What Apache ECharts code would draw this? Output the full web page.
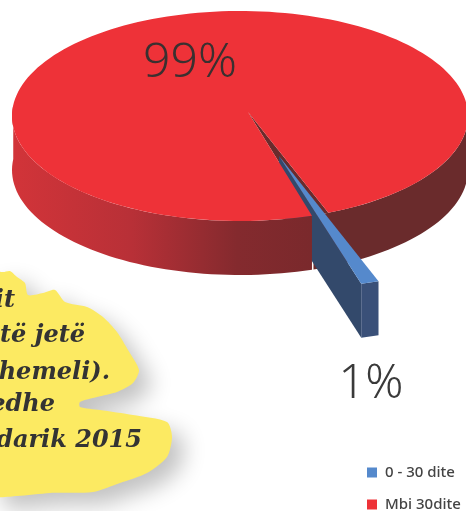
<!DOCTYPE html>
<html><head><meta charset="utf-8">
<style>html,body{margin:0;padding:0;background:#fff}#c{width:466px;height:511px}</style>
<script src="https://cdn.jsdelivr.net/npm/echarts@6/dist/echarts.min.js"></script>
</head><body><div id="c"></div>
<script>
const categories = ['0 - 30 dite', 'Mbi 30dite'];
const values = [1, 99];
const percentLabels = ['1%', '99%'];
const noteLines = ['it', 'të jetë', 'hemeli).', 'edhe', 'darik 2015'];

const chart = echarts.init(document.getElementById('c'), null, {renderer: 'canvas'});
const G = {cx: 240, cy: 116, rx: 228, ry: 105, depth: 54, apexX: 248, apexY: 112,
           midAngle: 69.5, sliceMid: 71.7, tipX: 279, tipY: 156, sliceR: 1.27};
const total = values[0] + values[1];
const halfGap = values[0] / total * 360 / 2;
const rad = d => d * Math.PI / 180;
const pt = (a, r = 1) => [G.cx + G.rx * r * Math.cos(rad(a)), G.cy + G.ry * r * Math.sin(rad(a))];
function arc(a0, a1, dy = 0) {
  const out = [], n = Math.max(2, Math.ceil(Math.abs(a1 - a0) / 2));
  for (let i = 0; i <= n; i++) {
    const p = pt(a0 + (a1 - a0) * i / n);
    out.push([p[0], p[1] + dy]);
  }
  return out;
}
const poly = (points, fill, z2) => ({type: 'polygon', z2, shape: {points}, style: {fill}});

function renderRed() {
  const a0 = G.midAngle + halfGap + 0.3, aR = G.midAngle - halfGap - 0.5, a1 = aR + 360;
  const children = [];
  const right = arc(-6, aR + 4);
  children.push(poly(right.concat(arc(aR + 4, -6, G.depth)), '#6a2b2c', 1));
  children.push(poly([[G.apexX, G.apexY], pt(aR), pt(a0)], '#6a2b2c', 2));
  const left = arc(a0, 186);
  children.push(poly(left.concat(arc(186, a0, G.depth)), {
    type: 'linear', x: 1, y: 0, x2: 0, y2: 0,
    colorStops: [{offset: 0, color: '#7a292c'}, {offset: .25, color: '#842a2e'},
                 {offset: .6, color: '#b83037'}, {offset: 1, color: '#d23439'}]
  }, 5));
  children.push(poly([[G.apexX, G.apexY]].concat(arc(a0, a1)), '#ee3238', 6));
  children.push({type: 'text', z2: 9, style: {text: percentLabels[1], x: 190, y: 63, align: 'center',
    verticalAlign: 'middle', fill: '#3a3030', font: '300 48px "Noto Sans"'}});
  return {type: 'group', children};
}
function renderBlue() {
  const ra = G.sliceMid + halfGap, rb = G.sliceMid - halfGap, tip = [G.tipX, G.tipY];
  const out = a => {
    const off = pt(a, G.sliceR);
    return [G.tipX + off[0] - G.cx, G.tipY + off[1] - G.cy];
  };
  const A = out(ra), B = out(rb);
  const dn = (p, d = G.depth) => [p[0], p[1] + d];
  return {type: 'group', children: [
    poly([tip, A, dn(A), dn(tip)], '#33496b', 3),
    poly([A, B, dn(B), dn(A)], '#3a5078', 7),
    poly([tip, A, B], '#5589cc', 8),
    {type: 'text', z2: 9, style: {text: percentLabels[0], x: 371, y: 385, align: 'center',
      verticalAlign: 'middle', fill: '#3a3a3a', font: '300 47px "Noto Sans"'}}
  ]};
}

const blob = [[-8,272],[3,272],[10,271],[17,277],[25,283],[28,295],[43,293],[55,290],[65,302],[87,307],[103,317],
  [117,332],[128,350],[139,370],[133,383],[117,392],[97,397],[80,402],[80,407],[100,410],[133,415],[167,422],
  [172,437],[167,457],[147,473],[120,483],[93,492],[50,493],[17,496],[-8,494]];
const noteRight = [15, 85, 110, 55, 142], noteBase = [313, 348, 385, 417, 453];

chart.setOption({
  animation: false,
  backgroundColor: '#fff',
  legend: {
    orient: 'vertical', left: 367, top: 465, height: 70, itemWidth: 10, itemHeight: 10, itemGap: 17,
    icon: 'rect', data: categories,
    textStyle: {fontFamily: '"Noto Sans"', fontSize: 15, fontWeight: 500, color: '#444', padding: [0, 0, 0, 3]},
    padding: 0
  },
  graphic: [
    {type: 'polygon', z: 0, shape: {points: blob, smooth: 0.25},
     style: {fill: '#fcea62', shadowColor: 'rgba(0,0,0,0.24)', shadowBlur: 22, shadowOffsetX: 12, shadowOffsetY: 12}}
  ].concat(noteLines.map((t, i) => ({
    type: 'text', z: 1, style: {text: t, x: noteRight[i], y: noteBase[i], align: 'right', verticalAlign: 'bottom',
      fill: '#333', font: 'italic bold 24px "DejaVu Serif"'}
  }))),
  series: [
    {type: 'custom', name: categories[0], coordinateSystem: 'none', z: 2, itemStyle: {color: '#5589cc'},
     data: [values[0]], renderItem: renderBlue, silent: true},
    {type: 'custom', name: categories[1], coordinateSystem: 'none', z: 2, itemStyle: {color: '#ee3238'},
     data: [values[1]], renderItem: renderRed, silent: true}
  ]
});
</script></body></html>
